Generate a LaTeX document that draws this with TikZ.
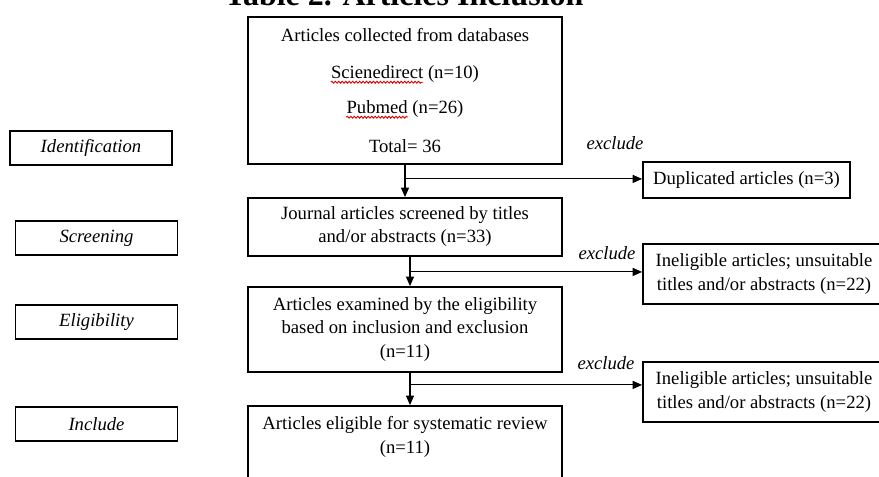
\documentclass[tikz,border=0pt]{standalone}
\usepackage{fontspec}
\setmainfont{Liberation Serif}
\usetikzlibrary{arrows.meta,decorations.pathmorphing}
\newlength\sciw
\newlength\pubw
\settowidth{\sciw}{\fontsize{14}{17}\selectfont Scienedirect}
\settowidth{\pubw}{\fontsize{14}{17}\selectfont Pubmed}
\begin{document}
\begin{tikzpicture}[x=0.75pt,y=-0.75pt,
  box/.style={draw=black, line width=1.4pt, inner sep=0pt, align=center, font=\fontsize{14}{17.5}\selectfont},
  lab/.style={draw=black, line width=1.2pt, minimum width=121.5pt, minimum height=25.5pt, inner sep=0pt, font=\fontsize{14}{17}\selectfont\itshape},
  txt/.style={inner sep=0pt, align=center, font=\fontsize{14}{17.6}\selectfont},
  excl/.style={inner sep=0pt, font=\fontsize{14}{17}\selectfont\itshape},
  wave/.style={draw=red!85!black, line width=0.7pt, decorate, decoration={snake, amplitude=0.7pt, segment length=2.6pt}},
  arr/.style={draw=black, line width=0.8pt, -{Triangle[length=7pt,width=6pt]}}]

\useasboundingbox (0,0) rectangle (879,477);

\node[anchor=base, inner sep=0pt, font=\fontsize{24}{28}\selectfont\bfseries] (title) at (404,5.5) {Table 2. Articles Inclusion};

\node[box, minimum width=235.5pt, minimum height=110.25pt] (b1) at (405,90.5) {};
\node[txt] (l1) at (405,35) {Articles collected from databases};
\node[txt] (l2) at (405,74) {Scienedirect (n=10)};
\node[txt] (l3) at (405,109) {Pubmed (n=26)};
\node[txt] (l4) at (405,146) {Total= 36};
\draw[wave] ([yshift=-2.8pt]l2.base west) -- ([yshift=-2.8pt,xshift=\sciw]l2.base west);
\draw[wave] ([yshift=-2.8pt]l3.base west) -- ([yshift=-2.8pt,xshift=\pubw]l3.base west);

\node[box, minimum width=235.5pt, minimum height=43.5pt, font=\fontsize{14}{17.25}\selectfont] (b2) at (405,227)
  {Journal articles screened by titles\\ and/or abstracts (n=33)};
\node[box, minimum width=235.5pt, minimum height=63.75pt, font=\fontsize{14}{17.6}\selectfont] (b3) at (405,329.5)
  {Articles examined by the eligibility\\ based on inclusion and exclusion\\ (n=11)};
\node[box, minimum width=235.5pt, minimum height=75pt] (b4) at (405,456) {};
\node[txt] (b4t) at (405,437) {Articles eligible for systematic review\\ (n=11)};

\node[box, minimum width=155.25pt, minimum height=27pt] (dup) at (746.5,180) {Duplicated articles (n=3)};
\node[box, minimum width=181.5pt, minimum height=45pt] (in1) at (764,274) {Ineligible articles; unsuitable\\ titles and/or abstracts (n=22)};
\node[box, minimum width=181.5pt, minimum height=45pt] (in2) at (764,392) {Ineligible articles; unsuitable\\ titles and/or abstracts (n=22)};

\node[lab] (id) at (91,148) {Identification};
\node[lab] (sc) at (96.5,238) {Screening};
\node[lab] (el) at (96.5,322) {Eligibility};
\node[lab] (inc) at (96.5,424) {Include};

\node[excl] (e1) at (615,143) {exclude};
\node[excl] (e2) at (607,253) {exclude};
\node[excl] (e3) at (606,363) {exclude};

\draw[arr] (b1.south) -- (b2.north);
\coordinate (j1) at ([yshift=-10.5pt]b1.south);
\draw[arr] (j1) -- (j1 -| dup.west);

\coordinate (t2) at ([xshift=3.75pt]b2.south);
\coordinate (j2) at ([xshift=3.75pt,yshift=-11.25pt]b2.south);
\draw[arr] (t2) -- (t2 |- b3.north);
\draw[arr] (j2) -- (j2 -| in1.west);

\coordinate (t3) at ([xshift=3.75pt]b3.south);
\coordinate (j3) at ([xshift=3.75pt,yshift=-9pt]b3.south);
\draw[arr] (t3) -- (t3 |- b4.north);
\draw[arr] (j3) -- (j3 -| in2.west);
\end{tikzpicture}
\end{document}
